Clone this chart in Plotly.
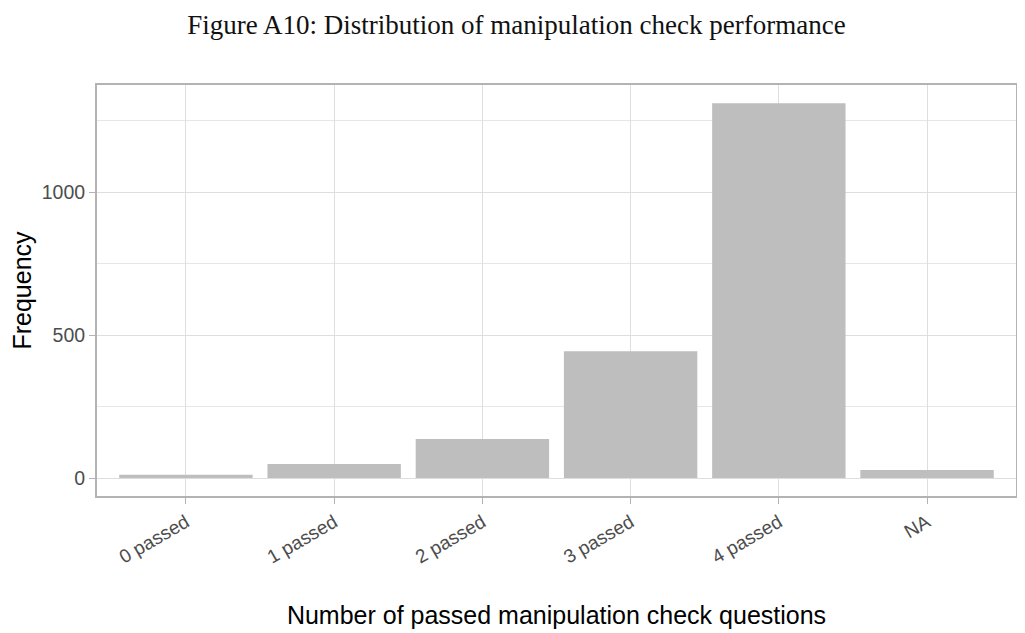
import plotly.graph_objects as go

categories = ["0 passed", "1 passed", "2 passed", "3 passed", "4 passed", "NA"]
frequency = [11, 49, 137, 444, 1312, 28]
y_ticks = [0, 500, 1000]

fig = go.Figure()
fig.add_trace(go.Bar(
    x=list(range(len(categories))), y=frequency, width=0.9,
    marker=dict(color="#bebebe", line=dict(width=0)),
    showlegend=False,
))

W, H = 1017, 625
fig.update_layout(
    width=W, height=H,
    margin=dict(l=89, r=9, t=77, b=137, autoexpand=False),
    paper_bgcolor="white", plot_bgcolor="white",
    font=dict(family="Liberation Sans, Arial", color="#4d4d4d"),
    title=dict(
        text="Figure A10: Distribution of manipulation check performance",
        x=0.5, xanchor="center", y=1 - 7 / H, yanchor="top", pad=dict(t=0),
        font=dict(family="Liberation Serif, serif", size=27, color="#111111"),
    ),
    bargap=0.1,
)

fig.update_xaxes(
    range=[-0.6, 5.6], automargin=False,
    tickmode="array", tickvals=list(range(len(categories))), ticktext=categories,
    tickangle=-30, tickfont=dict(size=19, color="#4d4d4d"),
    ticks="outside", ticklen=6, tickcolor="#b3b3b3", tickwidth=1.2,
    showgrid=True, gridcolor="#dedede", gridwidth=1,
    showline=True, linecolor="#b3b3b3", linewidth=2, mirror=True,
    zeroline=False,
    title=dict(text="Number of passed manipulation check questions",
               font=dict(size=25, color="black"), standoff=40),
)
fig.update_yaxes(
    range=[-63, 1376], automargin=False,
    tickmode="array", tickvals=y_ticks, ticktext=[str(v) for v in y_ticks],
    tickfont=dict(size=19.5, color="#4d4d4d"),
    ticks="outside", ticklen=6, tickcolor="#b3b3b3", tickwidth=1.2,
    showgrid=True, gridcolor="#dedede", gridwidth=1,
    minor=dict(tickvals=[250, 750, 1250], showgrid=True, gridcolor="#e6e6e6", gridwidth=1, ticks=""),
    showline=True, linecolor="#b3b3b3", linewidth=2, mirror=True,
    zeroline=False,
    title=dict(text="Frequency", font=dict(size=25, color="black"), standoff=8),
)

fig.write_html("out.html")
